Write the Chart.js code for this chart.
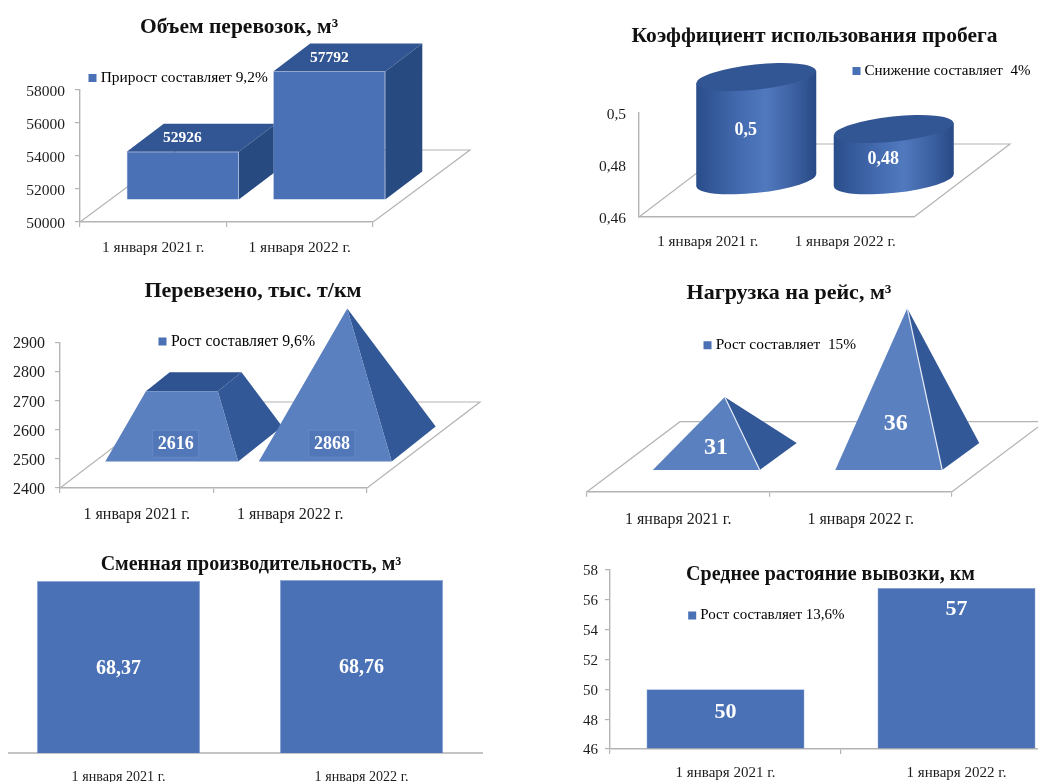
<!DOCTYPE html>
<html lang="ru">
<head>
<meta charset="utf-8">
<title>Показатели вывозки</title>
<script src="https://cdn.jsdelivr.net/npm/chart.js@4"></script>
<style>
html, body { margin: 0; padding: 0; background: #fff; width: 1038px; height: 782px; overflow: hidden; position: relative; }
canvas { position: absolute; filter: blur(0.35px); }
</style>
</head>
<body>
<script>
const categories = ['1 января 2021 г.', '1 января 2022 г.'];

const volumeValues = [52926, 57792];
const volumeTicks = [50000, 52000, 54000, 56000, 58000];
const volumeLabels = ['52926', '57792'];

const mileageValues = [0.5, 0.48];
const mileageTicks = [0.46, 0.48, 0.5];
const mileageLabels = ['0,5', '0,48'];

const cargoValues = [2616, 2868];
const cargoTicks = [2400, 2500, 2600, 2700, 2800, 2900];
const cargoLabels = ['2616', '2868'];

const loadValues = [31, 36];
const loadLabels = ['31', '36'];

const shiftValues = [68.37, 68.76];
const shiftLabels = ['68,37', '68,76'];

const distanceValues = [50, 56.8];
const distanceTicks = [46, 48, 50, 52, 54, 56, 58];
const distanceLabels = ['50', '57'];

const SERIF = '"Liberation Serif", serif';
const AXIS_GREY = '#b4b4b4';
const TEXT = '#1c1c1c';
const BLUE = '#4a70b5';
const TITLE_H = 24;
const LEGEND_PAD = 6;

function polygon(ctx, pts, fill, stroke) {
    ctx.beginPath();
    pts.forEach((p, i) => i ? ctx.lineTo(p[0], p[1]) : ctx.moveTo(p[0], p[1]));
    ctx.closePath();
    ctx.fillStyle = fill;
    ctx.fill();
    if (stroke) {
        ctx.strokeStyle = stroke;
        ctx.lineWidth = 1;
        ctx.stroke();
    }
}

function lerp(a, b, f) {
    return [a[0] + (b[0] - a[0]) * f, a[1] + (b[1] - a[1]) * f];
}

// floor of the 3d charts, only its outline is visible
function drawFloor(chart, depth) {
    const { ctx, chartArea: a } = chart;
    ctx.save();
    ctx.strokeStyle = AXIS_GREY;
    ctx.lineWidth = 1.2;
    ctx.beginPath();
    ctx.moveTo(a.left, a.bottom);
    ctx.lineTo(a.left + depth[0], a.bottom + depth[1]);
    ctx.lineTo(a.right + depth[0], a.bottom + depth[1]);
    ctx.lineTo(a.right, a.bottom);
    ctx.stroke();
    ctx.restore();
}

function drawBoxSides(ctx, el, depth) {
    const l = el.x - el.width / 2, r = el.x + el.width / 2;
    const [dx, dy] = depth;
    polygon(ctx, [[l, el.y], [r, el.y], [r + dx, el.y + dy], [l + dx, el.y + dy]], '#325593');
    polygon(ctx, [[r, el.y], [r + dx, el.y + dy], [r + dx, el.base + dy], [r, el.base]], '#274a80');
}

function drawCylinder(ctx, el, shift) {
    const cx = el.x + shift[0];
    const top = el.y + shift[1], bottom = el.base + shift[1];
    const half = el.width / 2;
    const rot = -6 * Math.PI / 180;
    const ry = 12.5;
    const g = ctx.createLinearGradient(cx - half, 0, cx + half, 0);
    g.addColorStop(0, '#2a4d8b');
    g.addColorStop(0.35, '#436aae');
    g.addColorStop(0.58, '#5179bd');
    g.addColorStop(0.8, '#3d62a4');
    g.addColorStop(1, '#284a85');
    ctx.fillStyle = g;
    ctx.beginPath();
    ctx.ellipse(cx, bottom, half, ry, rot, 0, Math.PI * 2);
    ctx.fill();
    polygon(ctx, [[cx - half, top + 6], [cx + half, top - 6], [cx + half, bottom - 6], [cx - half, bottom + 6]], g);
    ctx.fillStyle = '#325593';
    ctx.beginPath();
    ctx.ellipse(cx, top, half, ry, rot, 0, Math.PI * 2);
    ctx.fill();
}

// pyramid with its apex over the middle of the base; cut flat when capped
function drawPyramid(chart, el, cfg) {
    const ctx = chart.ctx;
    const y = chart.scales.y;
    const [sx, sy] = cfg.shift;
    const [dx, dy] = cfg.depth;
    const l = el.x - el.width / 2 + sx, r = el.x + el.width / 2 + sx, b = el.base + sy;
    const fl = [l, b], fr = [r, b], bl = [l + dx, b + dy], br = [r + dx, b + dy];
    const peak = cfg.capAt ? y.getPixelForValue(cfg.capAt) : el.y;
    const apex = [(l + r) / 2 + dx / 2, b + dy / 2 - (el.base - peak)];
    const f = (el.base - el.y) / (el.base - peak);
    const tl = lerp(fl, apex, f), tr = lerp(fr, apex, f), tbl = lerp(bl, apex, f), tbr = lerp(br, apex, f);
    polygon(ctx, [fr, br, tbr, tr], '#325897');
    if (f < 1) polygon(ctx, [tl, tr, tbr, tbl], '#2f5290');
    polygon(ctx, [fl, fr, tr, tl], '#5b80bf');
    if (cfg.edge) {
        ctx.strokeStyle = '#e4eaf5';
        ctx.lineWidth = 1.2;
        ctx.beginPath();
        ctx.moveTo(fr[0], fr[1]);
        ctx.lineTo(tr[0], tr[1]);
        ctx.stroke();
    }
}

function panelPlugin(cfg) {
    const ox = cfg.rect[0], oy = cfg.rect[1];
    return {
        id: 'panel3d',
        beforeDraw(chart) {
            // put the title and the legend where the slide has them
            const t = chart.titleBlock;
            t.left = cfg.titleAt[0] - ox - 300;
            t.right = cfg.titleAt[0] - ox + 300;
            t.top = cfg.titleAt[1] - oy - TITLE_H / 2 + 1.5;
            if (cfg.legendText) {
                const lg = chart.legend;
                lg.left = cfg.legendAt[0] - ox - 3;
                lg.right = lg.left + 320;
                lg.top = cfg.legendAt[1] - oy - cfg.legendSize / 2 - LEGEND_PAD + 0.5;
                lg.bottom = lg.top + 50;
            }
        },
        beforeDatasetsDraw(chart) {
            const ctx = chart.ctx;
            const els = chart.getDatasetMeta(0).data;
            if (cfg.floor) drawFloor(chart, cfg.floor);
            if (cfg.baseLine) {
                const a = chart.chartArea;
                ctx.save();
                ctx.strokeStyle = '#c4c4c4';
                ctx.lineWidth = 2;
                ctx.beginPath();
                ctx.moveTo(cfg.baseLine[0] - ox, a.bottom);
                ctx.lineTo(cfg.baseLine[1] - ox, a.bottom);
                ctx.stroke();
                ctx.restore();
            }
            ctx.save();
            if (cfg.shape === 'box') {
                ctx.translate(cfg.shift[0], cfg.shift[1]);
                els.forEach(el => drawBoxSides(ctx, el, cfg.depth));
                // the library draws the front faces inside this translate
            } else if (cfg.shape === 'cylinder') {
                els.forEach(el => drawCylinder(ctx, el, cfg.shift));
            } else if (cfg.shape === 'pyramid') {
                els.forEach(el => drawPyramid(chart, el, cfg));
            }
        },
        afterDatasetsDraw(chart) {
            const ctx = chart.ctx;
            ctx.restore();
            const els = chart.getDatasetMeta(0).data;
            ctx.save();
            ctx.textAlign = 'center';
            ctx.textBaseline = 'middle';
            ctx.font = 'bold ' + cfg.labelSize + 'px ' + SERIF;
            els.forEach((el, i) => {
                const off = cfg.labelAt[i];
                const x = el.x + off[0];
                const y = (el.y + el.base) / 2 + off[1];
                if (cfg.labelBox) {
                    ctx.fillStyle = '#5177b8';
                    ctx.strokeStyle = '#6488c5';
                    ctx.lineWidth = 1;
                    ctx.fillRect(x - 23, y - 13.5, 46, 27);
                    ctx.strokeRect(x - 23, y - 13.5, 46, 27);
                }
                ctx.fillStyle = '#fff';
                ctx.fillText(cfg.labels[i], x, y + 1);
            });
            ctx.restore();
        }
    };
}

function makePanel(cfg) {
    const [left, top, W, H] = cfg.rect;
    const canvas = document.createElement('canvas');
    canvas.width = W;
    canvas.height = H;
    canvas.style.left = left + 'px';
    canvas.style.top = top + 'px';
    canvas.style.width = W + 'px';
    canvas.style.height = H + 'px';
    document.body.appendChild(canvas);

    const a = cfg.area;
    const yW = cfg.yTicks ? 60 : 0;
    const xH = cfg.xH;
    const hasFront = cfg.shape === 'box' || cfg.shape === 'flat';

    new Chart(canvas.getContext('2d'), {
        type: 'bar',
        data: {
            labels: categories,
            datasets: [{
                label: cfg.legendText || cfg.title,
                data: cfg.values,
                base: cfg.yMin,
                backgroundColor: hasFront ? BLUE : 'rgba(0,0,0,0)',
                borderColor: hasFront ? '#8ea6d6' : 'rgba(0,0,0,0)',
                borderWidth: hasFront ? 0.6 : 0,
                barPercentage: cfg.barPct,
                categoryPercentage: 1,
                clip: false
            }]
        },
        options: {
            responsive: false,
            animation: false,
            devicePixelRatio: 1,
            layout: {
                padding: {
                    top: a.t - top - TITLE_H,
                    left: a.l - left - yW,
                    right: left + W - a.r,
                    bottom: top + H - a.b - xH
                }
            },
            plugins: {
                tooltip: { enabled: false },
                title: {
                    display: true,
                    text: cfg.title,
                    color: '#111',
                    padding: 0,
                    font: { family: SERIF, size: cfg.titleSize, weight: 'bold', lineHeight: TITLE_H / cfg.titleSize }
                },
                legend: {
                    display: !!cfg.legendText,
                    position: 'chartArea',
                    align: 'start',
                    labels: {
                        usePointStyle: true,
                        boxWidth: 1,
                        boxHeight: 8,
                        padding: LEGEND_PAD,
                        color: TEXT,
                        font: { family: SERIF, size: cfg.legendSize },
                        generateLabels: () => [{
                            text: cfg.legendText,
                            fillStyle: BLUE,
                            strokeStyle: BLUE,
                            lineWidth: 0,
                            pointStyle: 'rect',
                            rotation: 0,
                            hidden: false,
                            datasetIndex: 0
                        }]
                    }
                }
            },
            scales: {
                x: {
                    afterFit: s => { s.height = xH; },
                    grid: {
                        drawOnChartArea: false,
                        drawTicks: cfg.xMarks,
                        tickLength: 5,
                        color: AXIS_GREY,
                        lineWidth: 1.2
                    },
                    border: { display: !cfg.baseLine, color: AXIS_GREY, width: 1.4 },
                    ticks: {
                        color: TEXT,
                        padding: cfg.xPad,
                        maxRotation: 0,
                        autoSkip: false,
                        font: { family: SERIF, size: cfg.xSize }
                    }
                },
                y: {
                    display: !!cfg.yTicks,
                    min: cfg.yMin,
                    max: cfg.yMax,
                    afterFit: s => { s.width = yW; },
                    afterBuildTicks: s => {
                        if (cfg.yTicks) s.ticks = cfg.yTicks.map(v => ({ value: v }));
                    },
                    grid: {
                        drawOnChartArea: false,
                        drawTicks: cfg.yMarks,
                        tickLength: 5,
                        color: AXIS_GREY,
                        lineWidth: 1.2
                    },
                    border: { color: AXIS_GREY, width: 1.4 },
                    ticks: {
                        color: TEXT,
                        padding: cfg.yPad,
                        labelOffset: 1.5,
                        font: { family: SERIF, size: cfg.ySize },
                        callback: v => String(v).replace('.', ',')
                    }
                }
            }
        },
        plugins: [panelPlugin(cfg)]
    });
}

// Объем перевозок
makePanel({
    title: 'Объем перевозок, м³', titleSize: 21.5, titleAt: [239, 26],
    legendText: 'Прирост составляет 9,2%', legendSize: 15.4, legendAt: [89, 77.5],
    rect: [0, 0, 519, 270], area: { l: 80, t: 90, r: 373, b: 222 },
    values: volumeValues, labels: volumeLabels, yTicks: volumeTicks, yMin: 50000, yMax: 58000,
    shape: 'box', shift: [29.5, -22], depth: [37, -28], floor: [97, -72],
    barPct: 0.765, xMarks: true, yMarks: true, xH: 40, xPad: 12, yPad: 10, xSize: 15.4, ySize: 15.5,
    labelSize: 15.5, labelAt: [[29, -61], [29.5, -100.7]]
});

// Коэффициент использования пробега
makePanel({
    title: 'Коэффициент использования пробега', titleSize: 21.5, titleAt: [814.5, 35],
    legendText: 'Снижение составляет  4%', legendSize: 15, legendAt: [853, 70.5],
    rect: [519, 0, 519, 270], area: { l: 639, t: 113, r: 914, b: 217 },
    values: mileageValues, labels: mileageLabels, yTicks: mileageTicks, yMin: 0.46, yMax: 0.5,
    shape: 'cylinder', shift: [48.5, -36], floor: [96, -73],
    barPct: 0.873, xMarks: false, yMarks: false, xH: 40, xPad: 16, yPad: 13, xSize: 15.2, ySize: 15.5,
    labelSize: 18, labelAt: [[38, -35], [38, -32]]
});

// Перевезено
makePanel({
    title: 'Перевезено, тыс. т/км', titleSize: 22, titleAt: [253, 290],
    legendText: 'Рост составляет 9,6%', legendSize: 15.8, legendAt: [159, 341],
    rect: [0, 270, 519, 260], area: { l: 60, t: 342.7, r: 367, b: 488 },
    values: cargoValues, labels: cargoLabels, yTicks: cargoTicks, yMin: 2400, yMax: 2900,
    shape: 'pyramid', shift: [35, -26], depth: [44, -35], floor: [113, -86], capAt: 2868,
    barPct: 0.866, xMarks: true, yMarks: true, xH: 40, xPad: 12, yPad: 10, xSize: 16, ySize: 16,
    labelSize: 18, labelBox: true, labelAt: [[39, -12.5], [41.7, 24]]
});

// Нагрузка на рейс
makePanel({
    title: 'Нагрузка на рейс, м³', titleSize: 22, titleAt: [789, 292],
    legendText: 'Рост составляет  15%', legendSize: 15.4, legendAt: [704, 344.7],
    rect: [519, 270, 519, 260], area: { l: 587, t: 338.6, r: 952, b: 491.7 },
    values: loadValues, labels: loadLabels, yMin: 27.66, yMax: 36.27,
    shape: 'pyramid', shift: [28, -21.7], depth: [37, -27], floor: [93, -70], edge: true,
    barPct: 0.586, xMarks: true, yMarks: false, xH: 38, xPad: 13, yPad: 0, xSize: 16, ySize: 14,
    labelSize: 24, labelAt: [[37.7, -15], [35, 5.5]]
});

// Сменная производительность
makePanel({
    title: 'Сменная производительность, м³', titleSize: 20, titleAt: [251, 563],
    rect: [-3, 530, 522, 252], area: { l: -3, t: 577, r: 483, b: 753 },
    values: shiftValues, labels: shiftLabels, yMin: 0, yMax: 70,
    shape: 'flat', baseLine: [8, 483],
    barPct: 0.671, xMarks: false, yMarks: false, xH: 29, xPad: 16, yPad: 0, xSize: 14.1, ySize: 14,
    labelSize: 20, labelAt: [[0, 1], [0, 0]]
});

// Среднее растояние вывозки
makePanel({
    title: 'Среднее растояние вывозки, км', titleSize: 20, titleAt: [830.5, 573],
    legendText: 'Рост составляет 13,6%', legendSize: 15, legendAt: [688.7, 615],
    rect: [519, 530, 561, 252], area: { l: 610, t: 570, r: 1072, b: 749 },
    values: distanceValues, labels: distanceLabels, yTicks: distanceTicks, yMin: 46, yMax: 58,
    shape: 'flat',
    barPct: 0.684, xMarks: true, yMarks: true, xH: 33, xPad: 10, yPad: 7, xSize: 15, ySize: 15,
    labelSize: 22, labelAt: [[0, -7.5], [0, -59.5]]
});
</script>
</body>
</html>
